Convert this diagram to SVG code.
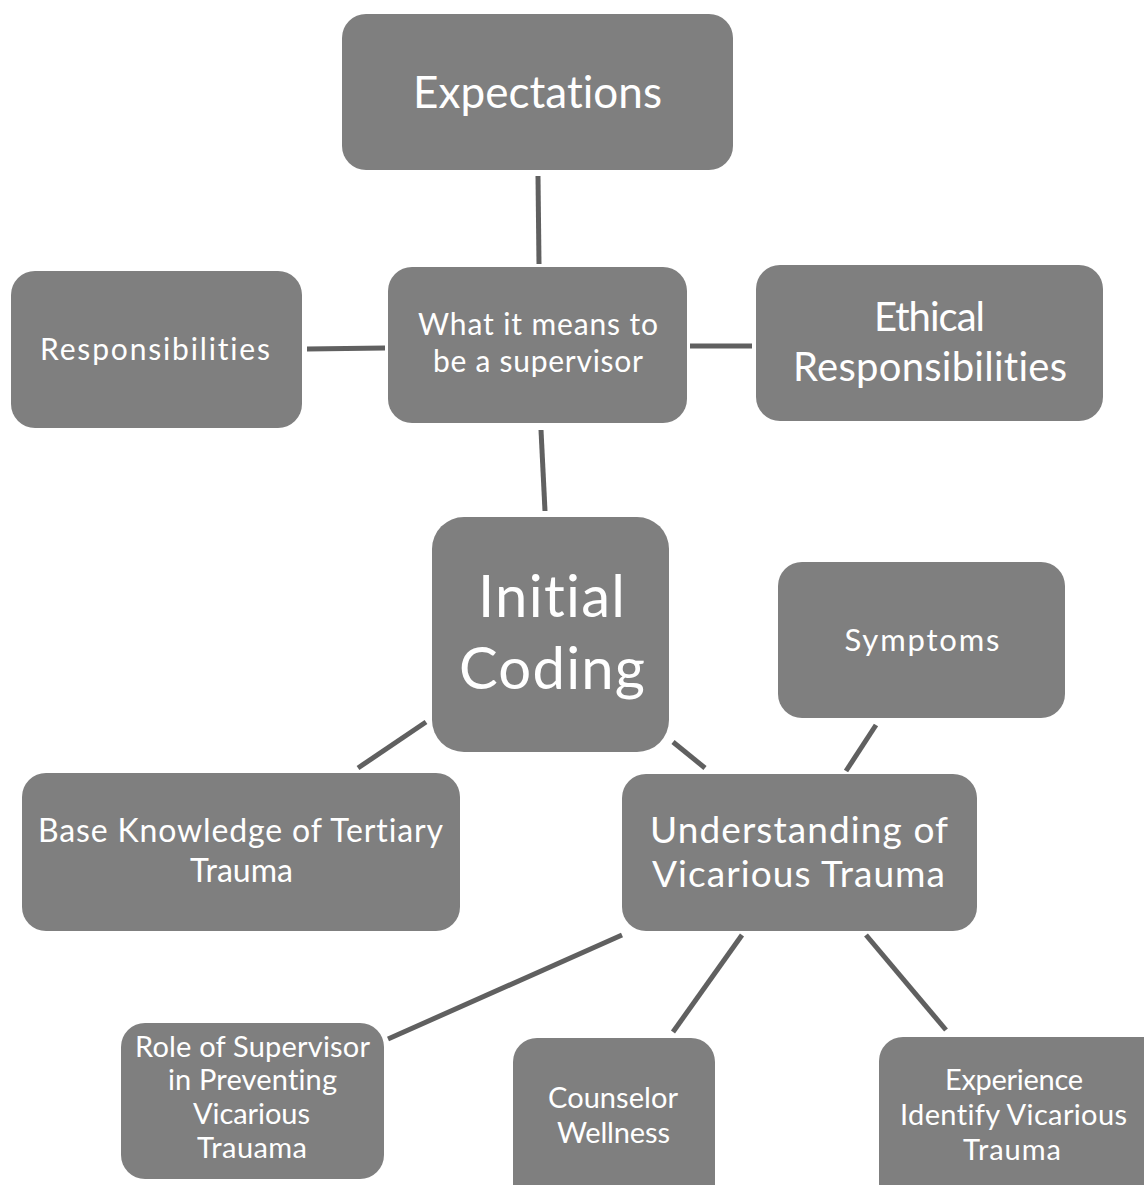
<svg xmlns="http://www.w3.org/2000/svg" width="1144" height="1185" viewBox="0 0 1144 1185">
<style>
.n{fill:#7f7f7f}
.t{fill:#ffffff;font-family:Lato,"Open Sans","Liberation Sans",sans-serif;text-anchor:middle;font-variant-ligatures:none}
.c{stroke:#606060;stroke-width:5;fill:none}
</style>
<rect width="1144" height="1185" fill="#ffffff"/>
<g id="connectors">
<line class="c" x1="538" y1="176" x2="539" y2="264"/>
<line class="c" x1="307" y1="349" x2="385" y2="348"/>
<line class="c" x1="690" y1="346" x2="752" y2="346"/>
<line class="c" x1="541" y1="430" x2="545" y2="511"/>
<line class="c" x1="426" y1="722" x2="358" y2="768"/>
<line class="c" x1="673" y1="742" x2="705" y2="768"/>
<line class="c" x1="876" y1="725" x2="846" y2="771"/>
<line class="c" x1="622" y1="935" x2="388" y2="1039"/>
<line class="c" x1="742" y1="935" x2="673" y2="1032"/>
<line class="c" x1="866" y1="935" x2="946" y2="1030"/>
</g>
<g id="expectations">
<rect class="n" x="342" y="14" width="391" height="156" rx="24"/>
<text class="t" x="537.5" y="108" font-size="44" textLength="249" lengthAdjust="spacing">Expectations</text>
</g>
<g id="supervisor">
<rect class="n" x="388" y="267" width="299" height="156" rx="24"/>
<text class="t" x="538" y="335" font-size="30" textLength="240" lengthAdjust="spacing">What it means to</text>
<text class="t" x="538" y="372" font-size="30" textLength="210" lengthAdjust="spacing">be a supervisor</text>
</g>
<g id="responsibilities">
<rect class="n" x="11" y="271" width="291" height="157" rx="24"/>
<text class="t" x="155" y="360" font-size="30" textLength="230" lengthAdjust="spacing">Responsibilities</text>
</g>
<g id="ethical">
<rect class="n" x="756" y="265" width="347" height="156" rx="24"/>
<text class="t" x="929.5" y="331" font-size="40" textLength="111" lengthAdjust="spacing">Ethical</text>
<text class="t" x="930" y="381" font-size="40" textLength="274" lengthAdjust="spacing">Responsibilities</text>
</g>
<g id="initial">
<rect class="n" x="432" y="517" width="237" height="235" rx="32"/>
<text class="t" x="551.5" y="617" font-size="58" textLength="147" lengthAdjust="spacing">Initial</text>
<text class="t" x="552" y="689" font-size="58" textLength="186" lengthAdjust="spacing">Coding</text>
</g>
<g id="symptoms">
<rect class="n" x="778" y="562" width="287" height="156" rx="24"/>
<text class="t" x="922" y="651" font-size="31" textLength="155" lengthAdjust="spacing">Symptoms</text>
</g>
<g id="base">
<rect class="n" x="22" y="773" width="438" height="158" rx="24"/>
<text class="t" x="240.5" y="842" font-size="32" textLength="405" lengthAdjust="spacing">Base Knowledge of Tertiary</text>
<text class="t" x="241.5" y="882" font-size="32" textLength="103" lengthAdjust="spacing">Trauma</text>
</g>
<g id="understanding">
<rect class="n" x="622" y="774" width="355" height="157" rx="24"/>
<text class="t" x="799" y="843" font-size="37" textLength="298" lengthAdjust="spacing">Understanding of</text>
<text class="t" x="798.5" y="887" font-size="37" textLength="293" lengthAdjust="spacing">Vicarious Trauma</text>
</g>
<g id="role">
<rect class="n" x="121" y="1023" width="263" height="156" rx="24"/>
<text class="t" x="252.5" y="1057" font-size="29" textLength="235" lengthAdjust="spacing">Role of Supervisor</text>
<text class="t" x="252.5" y="1090" font-size="29" textLength="169" lengthAdjust="spacing">in Preventing</text>
<text class="t" x="251.5" y="1124" font-size="29" textLength="117" lengthAdjust="spacing">Vicarious</text>
<text class="t" x="252" y="1158" font-size="29" textLength="110" lengthAdjust="spacing">Trauama</text>
</g>
<g id="wellness">
<rect class="n" x="513" y="1038" width="202" height="170" rx="24"/>
<text class="t" x="613" y="1108" font-size="29" textLength="130" lengthAdjust="spacing">Counselor</text>
<text class="t" x="613.5" y="1143" font-size="29" textLength="113" lengthAdjust="spacing">Wellness</text>
</g>
<g id="experience">
<rect class="n" x="879" y="1037" width="290" height="170" rx="24"/>
<text class="t" x="1014" y="1090" font-size="29" textLength="138" lengthAdjust="spacing">Experience</text>
<text class="t" x="1013.5" y="1125" font-size="29" textLength="227" lengthAdjust="spacing">Identify Vicarious</text>
<text class="t" x="1012" y="1160" font-size="29" textLength="98" lengthAdjust="spacing">Trauma</text>
</g>
</svg>
